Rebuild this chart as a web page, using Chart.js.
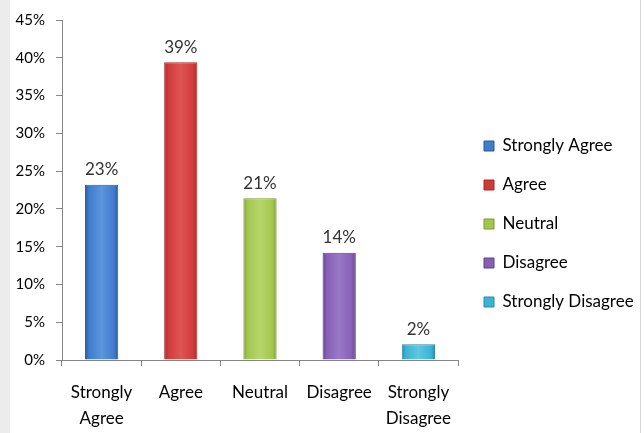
<!DOCTYPE html>
<html>
<head>
<meta charset="utf-8">
<script src="https://cdn.jsdelivr.net/npm/chart.js@4.4.0/dist/chart.umd.min.js"></script>
<style>
  html, body { margin: 0; padding: 0; background: #fff; }
  #strip { position: absolute; left: 0; top: 0; width: 10px; height: 433px; background: #ececec; }
  #wrap { position: absolute; left: 10px; top: 0; width: 630px; height: 433px; border-right: 1px solid #d4d4d4; }
</style>
</head>
<body>
<div id="strip"></div>
<div id="wrap"><canvas id="survey_chart" width="630" height="433"></canvas></div>
<script>
// survey answers, share of respondents in %
var categories = [["Strongly", "Agree"], "Agree", "Neutral", "Disagree", ["Strongly", "Disagree"]];
var legendNames = ["Strongly Agree", "Agree", "Neutral", "Disagree", "Strongly Disagree"];
var values = [23.2, 39.4, 21.4, 14.2, 2.1];
var valueLabels = ["23%", "39%", "21%", "14%", "2%"];
var yTicks = [0, 5, 10, 15, 20, 25, 30, 35, 40, 45];

var baseColors = ["#3f7ccb", "#cf3b3b", "#a3c64f", "#8660b5", "#3bb3d3"];
var darkColors = ["#2a5a98", "#9e2a2a", "#7c9a36", "#603f88", "#2a8aa6"];
var lightColors = ["#5b95de", "#e05454", "#b6d66a", "#9a78c8", "#5cc8e4"];

var catPct = 0.84, barPct = 0.5;

function barFill(ctx) {
  var chart = ctx.chart;
  var i = ctx.dataIndex;
  var xs = chart.scales.x;
  if (!xs || !chart.chartArea) return baseColors[i];
  var cx = xs.getPixelForValue(i);
  var half = (xs.width / categories.length) * catPct * barPct / 2;
  if (!isFinite(cx) || !isFinite(half)) return baseColors[i];
  var g = chart.ctx.createLinearGradient(cx - half, 0, cx + half, 0);
  g.addColorStop(0, darkColors[i]);
  g.addColorStop(0.12, baseColors[i]);
  g.addColorStop(0.5, lightColors[i]);
  g.addColorStop(0.88, baseColors[i]);
  g.addColorStop(1, darkColors[i]);
  return g;
}

var valueText = {
  id: "valueText",
  afterDatasetsDraw: function(chart) {
    var c = chart.ctx;
    c.save();
    c.font = "17px Lato";
    c.fillStyle = "#333";
    c.textAlign = "center";
    c.textBaseline = "middle";
    chart.getDatasetMeta(0).data.forEach(function(bar, i) {
      c.fillText(valueLabels[i], bar.x, bar.y - 15);
    });
    c.restore();
  }
};

// fixed legend width so the plot ends where the original does
var legendBox = {
  id: "legendBox",
  beforeLayout: function(chart) {
    var lg = chart.legend;
    if (lg && !lg._fixedFit) {
      var fit = lg.fit;
      lg.fit = function() {
        fit.call(this);
        this.width = 182;
      };
      lg._fixedFit = true;
    }
  },
  afterLayout: function(chart) {
    if (chart.legend) chart.legend.left += 4;
  }
};

new Chart("survey_chart", {
  type: "bar",
  data: {
    labels: categories,
    datasets: [{
      data: values,
      backgroundColor: barFill,
      borderColor: darkColors,
      borderWidth: 1,
      categoryPercentage: catPct,
      barPercentage: barPct
    }]
  },
  plugins: [valueText, legendBox],
  options: {
    responsive: false,
    animation: false,
    layout: { padding: { left: 0, top: 15, right: 0, bottom: 0 } },
    plugins: {
      tooltip: { enabled: false },
      legend: {
        position: "right",
        labels: {
          boxWidth: 10,
          boxHeight: 10,
          padding: 22,
          color: "#000",
          font: { family: "Lato", size: 17 },
          generateLabels: function(chart) {
            return legendNames.map(function(name, i) {
              return {
                text: name,
                fillStyle: baseColors[i],
                strokeStyle: darkColors[i],
                lineWidth: 1,
                index: i
              };
            });
          }
        }
      }
    },
    scales: {
      x: {
        afterFit: function(axis) { axis.height = 73; },
        grid: { drawOnChartArea: false, tickLength: 6, color: "#868686" },
        border: { color: "#868686" },
        ticks: { color: "#000", padding: 14, maxRotation: 0, font: { family: "Lato", size: 17, lineHeight: 1.53 } }
      },
      y: {
        min: 0,
        max: 45,
        afterBuildTicks: function(axis) {
          axis.ticks = yTicks.map(function(v) { return { value: v }; });
        },
        afterFit: function(axis) { axis.width = 52; },
        grid: { drawOnChartArea: false, tickLength: 6, color: "#868686" },
        border: { color: "#868686" },
        ticks: {
          color: "#000",
          padding: 11,
          font: { family: "Lato", size: 15 },
          callback: function(v) { return v + "%"; }
        }
      }
    }
  }
});
</script>
</body>
</html>
